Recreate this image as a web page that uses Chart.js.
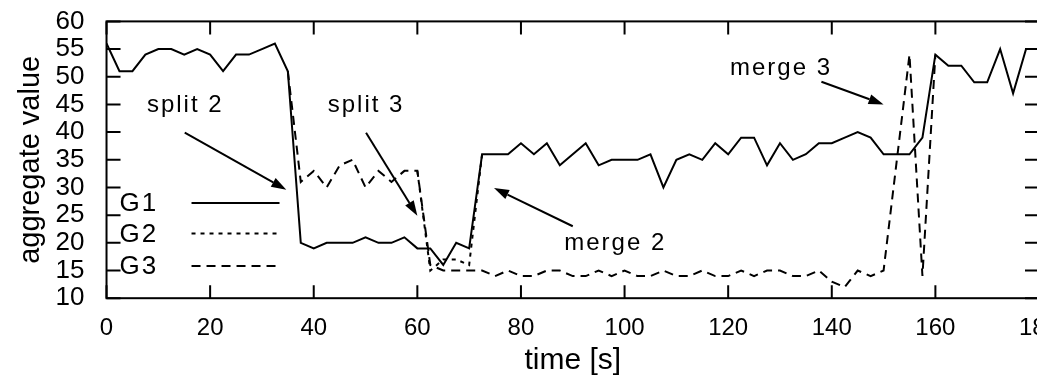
<!DOCTYPE html>
<html>
<head>
<meta charset="utf-8">
<script src="https://cdn.jsdelivr.net/npm/chart.js@4"></script>
<style>
  html, body { margin: 0; padding: 0; background: #fff; overflow: hidden; }
  #wrap { width: 1060px; height: 381px; }
</style>
</head>
<body>
<div id="wrap"><canvas id="chart" width="1060" height="381"></canvas></div>
<script>
// sample times in seconds
const times = [0, 2.5, 5, 7.5, 10, 12.5, 15, 17.5, 20, 22.5, 25, 27.5, 30, 32.5, 35, 37.5, 40, 42.5, 45, 47.5,
  50, 52.5, 55, 57.5, 60, 62.5, 65, 67.5, 70, 72.5, 75, 77.5, 80, 82.5, 85, 87.5, 90, 92.5, 95, 97.5,
  100, 102.5, 105, 107.5, 110, 112.5, 115, 117.5, 120, 122.5, 125, 127.5, 130, 132.5, 135, 137.5, 140, 142.5, 145, 147.5,
  150, 152.5, 155, 157.5, 160, 162.5, 165, 167.5, 170, 172.5, 175, 177.5, 180];

const g1Values = [56, 51, 51, 54, 55, 55, 54, 55, 54, 51, 54, 54, 55, 56, 51, 20, 19, 20, 20, 20,
  21, 20, 20, 21, 19, 19, 16, 20, 19, 36, 36, 36, 38, 36, 38, 34, 36, 38, 34, 35,
  35, 35, 36, 30, 35, 36, 35, 38, 36, 39, 39, 34, 38, 35, 36, 38, 38, 39, 40, 39,
  36, 36, 36, 39, 54, 52, 52, 49, 49, 55, 47, 55, 55];

const g2Values = [null, null, null, null, null, null, null, null, null, null, null, null, null, null, null, null, null, null, null, null,
  null, null, null, null, 33, 15, 17, 17, 16, 36, null, null, null, null, null, null, null, null, null, null,
  null, null, null, null, null, null, null, null, null, null, null, null, null, null, null, null, null, null, null, null,
  null, null, null, null, null, null, null, null, null, null, null, null, null];

const g3Values = [null, null, null, null, null, null, null, null, null, null, null, null, null, null, 51, 31, 33, 30, 34, 35,
  30, 33, 31, 33, 33, 16, 15, 15, 15, 15, 14, 15, 14, 14, 15, 15, 14, 14, 15, 14,
  15, 14, 14, 15, 14, 14, 15, 14, 14, 15, 14, 15, 15, 14, 14, 15, 13, 12, 15, 14,
  15, null, 54, 14, 54, null, null, null, null, null, null, null, null];

const xTicks = [0, 20, 40, 60, 80, 100, 120, 140, 160, 180];
const yTicks = [10, 15, 20, 25, 30, 35, 40, 45, 50, 55, 60];
const seriesNames = ['G1', 'G2', 'G3'];
const seriesDash = [[], [4, 5], [9, 6]];

// text labels with arrows, in data units
const notes = [
  { text: 'split 2', at: [15.2, 44.9], from: [15.1, 39.9], to: [34.7, 29.6] },
  { text: 'split 3', at: [50.1, 44.9], from: [50.1, 39.9], to: [60.0, 24.9] },
  { text: 'merge 2', at: [98.2, 19.9], from: [90.0, 23.0], to: [74.8, 29.9] },
  { text: 'merge 3', at: [130.2, 51.6], from: [138.0, 49.1], to: [150.0, 45.0] }
];

const FONT = '"Liberation Sans", Arial, Helvetica, sans-serif';
const toPoints = vals => times.map((t, i) => ({ x: t, y: vals[i] }));

const gnuplotLook = {
  id: 'gnuplotLook',
  afterDatasetsDraw(chart) {
    const { ctx, chartArea: a, scales: { x, y } } = chart;
    ctx.save();
    ctx.strokeStyle = '#000';
    ctx.fillStyle = '#000';

    // frame + inward ticks on all four sides
    ctx.lineWidth = 2;
    ctx.setLineDash([]);
    ctx.strokeRect(a.left, a.top, a.right - a.left, a.bottom - a.top);
    ctx.beginPath();
    xTicks.forEach(v => {
      const px = x.getPixelForValue(v);
      ctx.moveTo(px, a.bottom); ctx.lineTo(px, a.bottom - 13);
      ctx.moveTo(px, a.top); ctx.lineTo(px, a.top + 13);
    });
    yTicks.forEach(v => {
      const py = y.getPixelForValue(v);
      ctx.moveTo(a.left, py); ctx.lineTo(a.left + 14, py);
      ctx.moveTo(a.right, py); ctx.lineTo(a.right - 14, py);
    });
    ctx.stroke();

    ctx.letterSpacing = '2px';

    // legend: name on the left, line sample on the right
    ctx.font = '26px ' + FONT;
    ctx.textBaseline = 'middle';
    ctx.textAlign = 'left';
    const rows = [181.5, 212, 244.5];
    chart.data.datasets.forEach((ds, i) => {
      const ry = a.top + rows[i];
      ctx.fillText(seriesNames[i], a.left + 13, ry + 1);
      ctx.lineWidth = 2;
      ctx.setLineDash(seriesDash[i]);
      ctx.beginPath();
      ctx.moveTo(a.left + 85, ry);
      ctx.lineTo(a.left + 173, ry);
      ctx.stroke();
    });

    // annotations
    ctx.setLineDash([]);
    ctx.font = '24px ' + FONT;
    ctx.textAlign = 'center';
    notes.forEach(n => {
      ctx.fillText(n.text, x.getPixelForValue(n.at[0]), y.getPixelForValue(n.at[1]));
      const x0 = x.getPixelForValue(n.from[0]), y0 = y.getPixelForValue(n.from[1]);
      const x1 = x.getPixelForValue(n.to[0]), y1 = y.getPixelForValue(n.to[1]);
      const ang = Math.atan2(y1 - y0, x1 - x0);
      const hl = 15, hw = 5;
      ctx.lineWidth = 2;
      ctx.beginPath();
      ctx.moveTo(x0, y0);
      ctx.lineTo(x1 - hl * Math.cos(ang), y1 - hl * Math.sin(ang));
      ctx.stroke();
      ctx.beginPath();
      ctx.moveTo(x1, y1);
      ctx.lineTo(x1 - hl * Math.cos(ang) + hw * Math.sin(ang), y1 - hl * Math.sin(ang) - hw * Math.cos(ang));
      ctx.lineTo(x1 - hl * Math.cos(ang) - hw * Math.sin(ang), y1 - hl * Math.sin(ang) + hw * Math.cos(ang));
      ctx.closePath();
      ctx.fill();
    });
    ctx.restore();
  }
};

new Chart(document.getElementById('chart'), {
  type: 'line',
  data: {
    datasets: [
      { label: seriesNames[0], data: toPoints(g1Values), borderColor: '#000', borderWidth: 2, borderDash: seriesDash[0] },
      { label: seriesNames[1], data: toPoints(g2Values), borderColor: '#000', borderWidth: 2, borderDash: seriesDash[1] },
      { label: seriesNames[2], data: toPoints(g3Values), borderColor: '#000', borderWidth: 2, borderDash: seriesDash[2], spanGaps: true }
    ]
  },
  options: {
    responsive: false,
    animation: false,
    layout: { padding: { top: 21.4, left: 10, bottom: 2, right: 21 } },
    elements: { point: { radius: 0 }, line: { tension: 0, borderCapStyle: 'butt', borderJoinStyle: 'miter' } },
    plugins: { legend: { display: false }, tooltip: { enabled: false } },
    scales: {
      x: {
        type: 'linear', min: 0, max: 180,
        afterBuildTicks: s => { s.ticks = xTicks.map(v => ({ value: v })); },
        afterFit: s => { s.paddingLeft = 0; s.paddingRight = 0; },
        ticks: { font: { family: FONT, size: 24 }, color: '#000', padding: 16, maxRotation: 0, autoSkip: false },
        grid: { display: false, drawTicks: false },
        border: { display: false },
        title: { display: true, text: 'time [s]', font: { family: FONT, size: 30 }, color: '#000', padding: { top: -16, bottom: 0 } }
      },
      y: {
        type: 'linear', min: 10, max: 60,
        afterBuildTicks: s => { s.ticks = yTicks.map(v => ({ value: v })); },
        afterFit: s => { s.paddingTop = 0; s.paddingBottom = 0; },
        ticks: { font: { family: FONT, size: 26 }, color: '#000', padding: 22, autoSkip: false },
        grid: { display: false, drawTicks: false },
        border: { display: false },
        title: { display: true, text: 'aggregate value', font: { family: FONT, size: 29 }, color: '#000', padding: { top: 3.6, bottom: -14.8 } }
      }
    }
  },
  plugins: [gnuplotLook]
});
</script>
</body>
</html>
